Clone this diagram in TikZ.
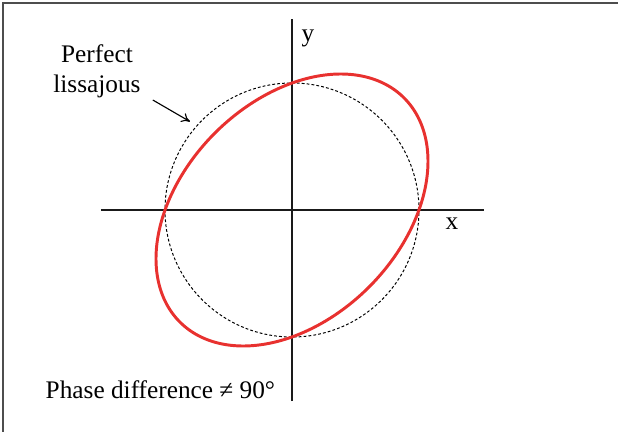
\documentclass[tikz,border=0pt]{standalone}
\usepackage{fontspec}
\setmainfont{Liberation Serif}
\usetikzlibrary{arrows.meta}
\definecolor{framegray}{HTML}{4D4D4D}
\definecolor{axisblack}{HTML}{1A1A1A}
\definecolor{curvered}{HTML}{E8312F}

\begin{document}
\begin{tikzpicture}[line width=1pt, >=Stealth, font=\fontsize{18pt}{21.6pt}\selectfont]
  \useasboundingbox (-7.3,-5.55) rectangle (8.15,5.25);
  % frame (top and left edge only)
  \draw[framegray, line width=1.1pt] (8.15,5.175) -- (-7.225,5.175) -- (-7.225,-5.55);

  % axes
  \coordinate (xl) at (-4.78,0);
  \coordinate (xr) at (4.8,0);
  \coordinate (yb) at (0,-4.78);
  \coordinate (yt) at (0,4.78);
  \draw[axisblack] (xl) -- (xr);
  \draw[axisblack] (yb) -- (yt);
  \node (xlab) at (4.0,-0.33) {x};
  \node (ylab) at (0.4,4.28) {y};

  % perfect circle and the tilted ellipse
  \draw[black, line width=0.7pt, dash pattern=on 2pt off 1.5pt] (0,0) circle (3.175);
  \draw[curvered, line width=2.1pt, domain=0:360, samples=240, smooth, variable=\t]
    plot ({3.4*sin(\t)}, {3.4*sin(\t+69)}) -- cycle;

  \node[align=center, inner sep=0pt] (perf) at (-4.875,3.475) {Perfect\\lissajous};
  \coordinate (arrS) at (-3.48,2.75);
  \coordinate (arrT) at (-2.55,2.21);
  \draw[black, line width=0.8pt, -{To[length=6pt,width=7pt]}] (arrS) -- (arrT);

  \node[anchor=base west, inner sep=0pt] (phase) at (-6.175,-4.7) {Phase difference ≠ 90°};
\end{tikzpicture}
\end{document}
